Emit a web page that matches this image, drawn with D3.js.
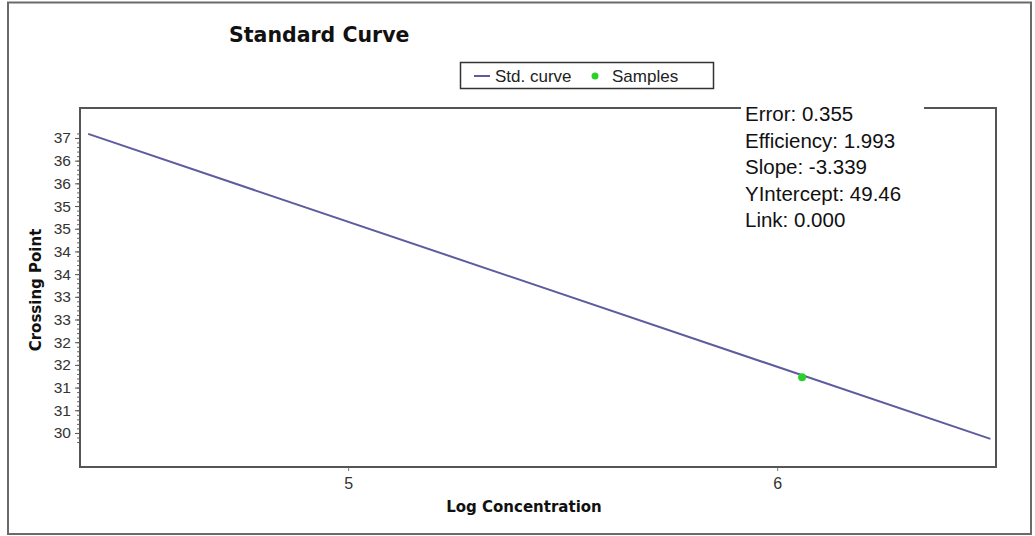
<!DOCTYPE html>
<html>
<head>
<meta charset="utf-8">
<script src="https://cdn.jsdelivr.net/npm/d3@7"></script>
<style>
  html, body { margin: 0; padding: 0; background: #fff; }
  svg { display: block; }
</style>
</head>
<body>
<svg id="chart" width="1035" height="536"></svg>
<script>
// Standard curve end points (log concentration, crossing point)
const curveLogConc = [4.394, 6.497];
const curveCrossing = [37.09, 30.37];

// Measured samples
const sampleLogConc = [6.058];
const sampleCrossing = [31.73];

// Axis ranges and ticks
const xDomain = [4.375, 6.51];
const yDomain = [29.75, 37.66];
const xTickValues = [5, 6];
const yTickValues = [37, 36.5, 36, 35.5, 35, 34.5, 34, 33.5, 33, 32.5, 32, 31.5, 31, 30.5];
const yMinorTickValues = d3.range(303, 372).map(v => v / 10);

// Fit summary
const statsLines = ["Error: 0.355", "Efficiency: 1.993", "Slope: -3.339", "YIntercept: 49.46", "Link: 0.000"];

const legendLabels = ["Std. curve", "Samples"];

const lineColor = "#5c5c9e";
const pointColor = "#2bd12b";
const frameColor = "#555";

const svg = d3.select("#chart");

const plot = { left: 80, top: 108, right: 996, bottom: 467 };

const x = d3.scaleLinear().domain(xDomain).range([plot.left, plot.right]);
const y = d3.scaleLinear().domain(yDomain).range([plot.bottom, plot.top]);

// Outer frame
svg.append("rect")
  .attr("x", 8).attr("y", 2.5)
  .attr("width", 1023).attr("height", 531.5)
  .attr("fill", "#fff")
  .attr("stroke", "#6a6a6a").attr("stroke-width", 2);

// Title
svg.append("text")
  .attr("x", 229).attr("y", 42)
  .attr("font-family", "DejaVu Sans")
  .attr("font-weight", "bold")
  .attr("font-size", 20.5)
  .attr("fill", "#111")
  .text("Standard Curve");

// Legend
const legend = svg.append("g");
legend.append("rect")
  .attr("x", 460.5).attr("y", 62.5)
  .attr("width", 253).attr("height", 26)
  .attr("fill", "#fff")
  .attr("stroke", "#333").attr("stroke-width", 1.5);
legend.append("line")
  .attr("x1", 474).attr("x2", 490)
  .attr("y1", 76).attr("y2", 76)
  .attr("stroke", lineColor).attr("stroke-width", 2);
legend.append("text")
  .attr("x", 495).attr("y", 81.5)
  .attr("font-family", "Liberation Sans, Arial, sans-serif")
  .attr("font-size", 17)
  .attr("fill", "#222")
  .text(legendLabels[0]);
legend.append("circle")
  .attr("cx", 595).attr("cy", 76).attr("r", 3.5)
  .attr("fill", pointColor);
legend.append("text")
  .attr("x", 612).attr("y", 81.5)
  .attr("font-family", "Liberation Sans, Arial, sans-serif")
  .attr("font-size", 17)
  .attr("fill", "#222")
  .text(legendLabels[1]);

// Minor y ticks
svg.append("g")
  .attr("transform", `translate(${plot.left},0)`)
  .call(d3.axisLeft(y).tickValues(yMinorTickValues).tickSize(3).tickFormat(""))
  .call(g => g.select(".domain").remove())
  .call(g => g.selectAll("line").attr("stroke", "#666"));

// Major y ticks
svg.append("g")
  .attr("transform", `translate(${plot.left},0)`)
  .call(d3.axisLeft(y).tickValues(yTickValues).tickSize(5).tickPadding(4)
    .tickFormat(d => Math.floor(d)))
  .call(g => g.select(".domain").remove())
  .call(g => g.selectAll("line").attr("stroke", "#555"))
  .call(g => g.selectAll("text")
    .attr("font-family", "Liberation Sans, Arial, sans-serif")
    .attr("font-size", 15.5)
    .attr("fill", "#333"));

// X ticks
svg.append("g")
  .attr("transform", `translate(0,${plot.bottom})`)
  .call(d3.axisBottom(x).tickValues(xTickValues).tickSize(4).tickPadding(7)
    .tickFormat(d3.format("d")))
  .call(g => g.select(".domain").remove())
  .call(g => g.selectAll("line").attr("stroke", "#777"))
  .call(g => g.selectAll("text")
    .attr("font-family", "Liberation Sans, Arial, sans-serif")
    .attr("font-size", 16)
    .attr("fill", "#333"));

// Plot frame
svg.append("rect")
  .attr("x", plot.left).attr("y", plot.top)
  .attr("width", plot.right - plot.left).attr("height", plot.bottom - plot.top)
  .attr("fill", "none")
  .attr("stroke", frameColor).attr("stroke-width", 2);

// Standard curve
const curve = curveLogConc.map((v, i) => [v, curveCrossing[i]]);
svg.append("path")
  .datum(curve)
  .attr("fill", "none")
  .attr("stroke", lineColor)
  .attr("stroke-width", 2)
  .attr("d", d3.line().x(d => x(d[0])).y(d => y(d[1])));

// Samples
svg.append("g")
  .selectAll("circle")
  .data(sampleLogConc.map((v, i) => [v, sampleCrossing[i]]))
  .join("circle")
  .attr("cx", d => x(d[0]))
  .attr("cy", d => y(d[1]))
  .attr("r", 4)
  .attr("fill", pointColor);

// Axis titles
svg.append("text")
  .attr("x", 524).attr("y", 512)
  .attr("text-anchor", "middle")
  .attr("font-family", "DejaVu Sans")
  .attr("font-weight", "bold")
  .attr("font-size", 15)
  .attr("fill", "#111")
  .text("Log Concentration");

svg.append("text")
  .attr("transform", "translate(41,290) rotate(-90)")
  .attr("text-anchor", "middle")
  .attr("font-family", "DejaVu Sans")
  .attr("font-weight", "bold")
  .attr("font-size", 15)
  .attr("fill", "#111")
  .text("Crossing Point");

// Fit summary box
const stats = svg.append("g");
stats.append("rect")
  .attr("x", 741).attr("y", 96)
  .attr("width", 183).attr("height", 142)
  .attr("fill", "#fff");
stats.selectAll("text")
  .data(statsLines)
  .join("text")
  .attr("x", 745)
  .attr("y", (d, i) => 121 + i * 26.5)
  .attr("font-family", "Liberation Sans, Arial, sans-serif")
  .attr("font-size", 20.5)
  .attr("fill", "#111")
  .text(d => d);
</script>
</body>
</html>
